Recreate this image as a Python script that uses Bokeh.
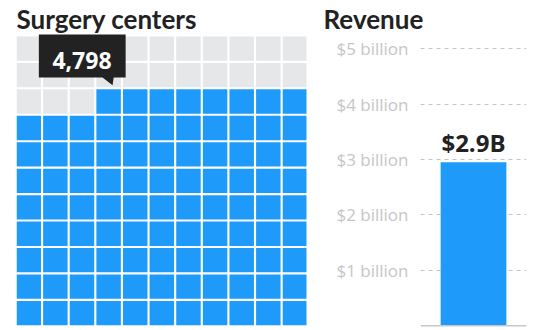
from bokeh.plotting import figure
from bokeh.layouts import row
from bokeh.models import Range1d, FixedTicker, Span, ColumnDataSource, LabelSet
from bokeh.core.properties import value
from bokeh.embed import file_html
from bokeh.resources import INLINE

# ---------------- data ----------------
centers_total = 4798
grid_columns = 11
grid_rows = 11
filled_cells = 96            # blue squares (~4,798 centers)
revenue_category = ["Revenue"]
revenue_billion = [2.95]
revenue_text = ["$2.9B"]
revenue_ticks = [1, 2, 3, 4, 5]
revenue_tick_labels = ["$1 billion", "$2 billion", "$3 billion", "$4 billion", "$5 billion"]
titles = ["Surgery centers", "Revenue"]

BLUE = "#1e9bfa"
GRAY = "#e6e7e8"
DARK = "#222222"
FONT = "Open Sans"
TFONT = "Lato"
FRAME_TOP = 34

# ---------------- waffle ----------------
total_cells = grid_columns * grid_rows
first_filled = total_cells - filled_cells
xs, ys, colors = [], [], []
for idx in range(total_cells):
    r, c = divmod(idx, grid_columns)
    xs.append(c)
    ys.append(r)
    colors.append(BLUE if idx >= first_filled else GRAY)
waffle = ColumnDataSource(dict(x=xs, y=ys, color=colors))

pitch = 26.62
left = -0.46
top = -0.46 - (36 - FRAME_TOP) / pitch
p1 = figure(width=310, height=330, output_backend="svg", toolbar_location=None,
            x_range=Range1d(left, left + 290 / pitch),
            y_range=Range1d(top + (330 - FRAME_TOP) / pitch, top),
            min_border_left=16, min_border_right=4, min_border_top=FRAME_TOP, min_border_bottom=0,
            x_axis_type=None, y_axis_type=None)
p1.outline_line_color = None
p1.grid.visible = False
p1.title.text = titles[0]
p1.title.text_font = TFONT
p1.title.text_font_size = "26px"
p1.title.text_font_style = "bold"
p1.title.text_color = DARK
p1.title.standoff = 0
p1.title.offset = 0

p1.rect(x="x", y="y", width=0.92, height=0.92, fill_color="color", line_color=None, source=waffle)

# callout pointing at the first filled cell
fr, fc = divmod(first_filled, grid_columns)
bx = [fc + d for d in [-2.62, 0.64, 0.64, 0.19, 0.15, -0.23, -2.62]]
by = [fr + d for d in [-2.61, -2.61, -0.91, -0.91, -0.62, -0.91, -0.91]]
p1.patch(bx, by, fill_color=DARK, line_color=None)
p1.text(x=[fc - 1.0], y=[fr - 1.564], text=[f"{centers_total:,}"],
        text_font=value(FONT), text_font_size="23px", text_font_style="bold",
        text_color="white", text_align="center", text_baseline="alphabetic")

# ---------------- revenue bar ----------------
ppu = 55.4  # pixels per billion
p2 = figure(width=230, height=330, output_backend="svg", toolbar_location=None,
            x_range=Range1d(-0.5, 0.5),
            y_range=Range1d(-0.05, -0.05 + (328 - FRAME_TOP) / ppu),
            min_border_left=110, min_border_right=14, min_border_top=FRAME_TOP, min_border_bottom=2,
            x_axis_type=None)
p2.outline_line_color = None
p2.title.text = titles[1]
p2.title.text_font = TFONT
p2.title.text_font_size = "26px"
p2.title.text_font_style = "bold"
p2.title.text_color = DARK
p2.title.standoff = 0
p2.title.offset = -97

ya = p2.yaxis[0]
ya.ticker = FixedTicker(ticks=revenue_ticks)
ya.major_label_overrides = {t: l for t, l in zip(revenue_ticks, revenue_tick_labels)}
ya.axis_line_color = None
ya.major_tick_line_color = None
ya.minor_tick_line_color = None
ya.major_label_text_font = FONT
ya.major_label_text_font_size = "17px"
ya.major_label_text_color = "#c6c6c6"
ya.major_label_standoff = 6
p2.xgrid.visible = False
p2.ygrid.ticker = FixedTicker(ticks=revenue_ticks)
p2.ygrid.grid_line_color = "#c4c4c4"
p2.ygrid.grid_line_dash = "4 4"
p2.ygrid.grid_line_width = 1

src = ColumnDataSource(dict(x=[0], top=revenue_billion, label=revenue_text))
p2.vbar(x="x", top="top", bottom=0, width=0.62, fill_color=BLUE, line_color=None, source=src)
p2.add_layout(Span(location=0, dimension="width", line_color="#c8c8c8", line_width=1.5))
p2.add_layout(LabelSet(x="x", y="top", text="label", source=src, y_offset=10,
                       text_font=value(FONT), text_font_size="24px", text_font_style="bold",
                       text_color=DARK, text_align="center", text_baseline="alphabetic"))

layout = row(p1, p2)
open("out.html", "w").write(file_html(layout, INLINE))
